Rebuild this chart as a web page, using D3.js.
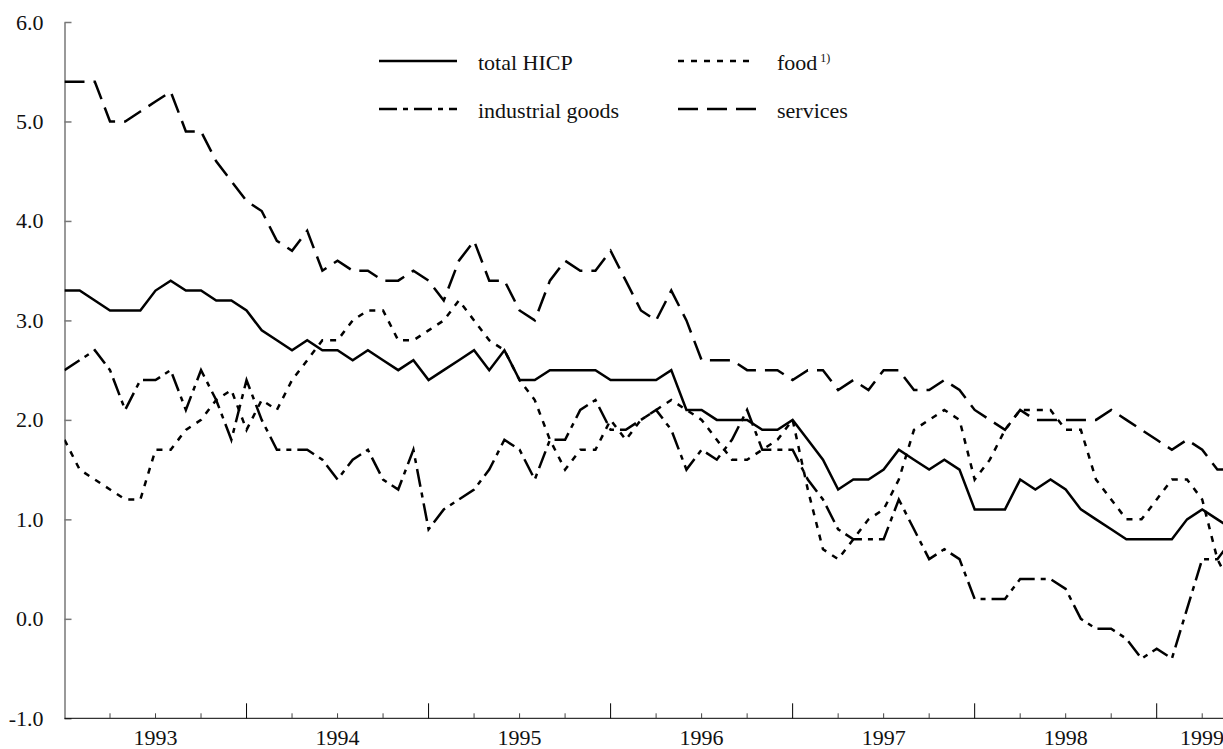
<!DOCTYPE html>
<meta charset="utf-8">
<style>
    body { margin: 0; background: #fff; }
    svg { display: block; font-family: "Liberation Serif", "Times New Roman", serif; }
    .series { fill: none; stroke: #000; stroke-width: 2.5px; stroke-linejoin: miter; }
    .yaxis path, .yaxis line { stroke: #777; stroke-width: 1.5px; }
    .xaxis line { stroke: #000; }
    .yaxis text, .year { font-family: "Liberation Serif", "Times New Roman", serif; font-size: 22px; fill: #111; }
    .legend text { font-size: 22px; fill: #111; }
</style>
<svg width="1223" height="749"></svg>

<script src="https://d3js.org/d3.v7.min.js"></script>
<script>
    // monthly data, Jan 1993 onwards, % change year on year
    var years = ["1993", "1994", "1995", "1996", "1997", "1998", "1999"];
    var yTicks = [-1, 0, 1, 2, 3, 4, 5, 6];

    var hicp = [3.3, 3.3, 3.2, 3.1, 3.1, 3.1, 3.3, 3.4, 3.3, 3.3, 3.2, 3.2,
        3.1, 2.9, 2.8, 2.7, 2.8, 2.7, 2.7, 2.6, 2.7, 2.6, 2.5, 2.6,
        2.4, 2.5, 2.6, 2.7, 2.5, 2.7, 2.4, 2.4, 2.5, 2.5, 2.5, 2.5,
        2.4, 2.4, 2.4, 2.4, 2.5, 2.1, 2.1, 2.0, 2.0, 2.0, 1.9, 1.9,
        2.0, 1.8, 1.6, 1.3, 1.4, 1.4, 1.5, 1.7, 1.6, 1.5, 1.6, 1.5,
        1.1, 1.1, 1.1, 1.4, 1.3, 1.4, 1.3, 1.1, 1.0, 0.9, 0.8, 0.8,
        0.8, 0.8, 1.0, 1.1, 1.0, 0.9];
    var food = [1.8, 1.5, 1.4, 1.3, 1.2, 1.2, 1.7, 1.7, 1.9, 2.0, 2.2, 2.3,
        1.9, 2.2, 2.1, 2.4, 2.6, 2.8, 2.8, 3.0, 3.1, 3.1, 2.8, 2.8,
        2.9, 3.0, 3.2, 3.0, 2.8, 2.7, 2.4, 2.2, 1.8, 1.5, 1.7, 1.7,
        2.0, 1.8, 2.0, 2.1, 2.2, 2.1, 2.0, 1.8, 1.6, 1.6, 1.7, 1.8,
        2.0, 1.3, 0.7, 0.6, 0.8, 1.0, 1.1, 1.4, 1.9, 2.0, 2.1, 2.0,
        1.4, 1.6, 1.9, 2.1, 2.1, 2.1, 1.9, 1.9, 1.4, 1.2, 1.0, 1.0,
        1.2, 1.4, 1.4, 1.2, 0.6, 0.3];
    var industrial = [2.5, 2.6, 2.7, 2.5, 2.1, 2.4, 2.4, 2.5, 2.1, 2.5, 2.2, 1.8,
        2.4, 2.0, 1.7, 1.7, 1.7, 1.6, 1.4, 1.6, 1.7, 1.4, 1.3, 1.7,
        0.9, 1.1, 1.2, 1.3, 1.5, 1.8, 1.7, 1.4, 1.8, 1.8, 2.1, 2.2,
        1.9, 1.9, 2.0, 2.1, 1.9, 1.5, 1.7, 1.6, 1.8, 2.1, 1.7, 1.7,
        1.7, 1.4, 1.2, 0.9, 0.8, 0.8, 0.8, 1.2, 0.9, 0.6, 0.7, 0.6,
        0.2, 0.2, 0.2, 0.4, 0.4, 0.4, 0.3, 0.0, -0.1, -0.1, -0.2, -0.4,
        -0.3, -0.4, 0.1, 0.6, 0.6, 0.8];
    var services = [5.4, 5.4, 5.4, 5.0, 5.0, 5.1, 5.2, 5.3, 4.9, 4.9, 4.6, 4.4,
        4.2, 4.1, 3.8, 3.7, 3.9, 3.5, 3.6, 3.5, 3.5, 3.4, 3.4, 3.5,
        3.4, 3.2, 3.6, 3.8, 3.4, 3.4, 3.1, 3.0, 3.4, 3.6, 3.5, 3.5,
        3.7, 3.4, 3.1, 3.0, 3.3, 3.0, 2.6, 2.6, 2.6, 2.5, 2.5, 2.5,
        2.4, 2.5, 2.5, 2.3, 2.4, 2.3, 2.5, 2.5, 2.3, 2.3, 2.4, 2.3,
        2.1, 2.0, 1.9, 2.1, 2.0, 2.0, 2.0, 2.0, 2.0, 2.1, 2.0, 1.9,
        1.8, 1.7, 1.8, 1.7, 1.5, 1.5];

    var series = [
        {name: "total HICP", values: hicp, dash: null},
        {name: "food", note: "1)", values: food, dash: "6,7"},
        {name: "industrial goods", values: industrial, dash: "18,6,5,6"},
        {name: "services", values: services, dash: "20,9"}
    ];

    var svg = d3.select("svg"),
        width = +svg.attr("width"),
        height = +svg.attr("height");

    var plotLeft = 64.5, plotTop = 22, plotBottom = 718.3;

    // one unit = one month, Jan 1993 = 0
    var x = d3.scaleLinear().domain([0, 72]).range([plotLeft, 1156.7]);
    var y = d3.scaleLinear().domain([-1, 6]).range([plotBottom, plotTop]);

    svg.append("defs").append("clipPath").attr("id", "plot")
        .append("rect")
        .attr("x", plotLeft).attr("y", 0)
        .attr("width", width - plotLeft).attr("height", plotBottom);

    // y axis, ticks pointing into the plot
    svg.append("g")
        .attr("class", "yaxis")
        .attr("transform", "translate(" + plotLeft + ",0)")
        .call(d3.axisLeft(y)
            .tickValues(yTicks)
            .tickSizeInner(-7)
            .tickSizeOuter(0)
            .tickPadding(21)
            .tickFormat(function(d) { return d.toFixed(1); }));

    // x axis: quarter ticks short, year ticks long
    var quarters = d3.range(3, 78, 3).filter(function(m) { return m % 12 != 0; });
    var yearStarts = d3.range(12, 78, 12);

    var xg = svg.append("g")
        .attr("class", "xaxis")
        .attr("transform", "translate(0," + plotBottom + ")");

    xg.append("line")
        .attr("x1", plotLeft).attr("x2", width)
        .attr("y1", 0).attr("y2", 0);

    xg.selectAll(".minor")
        .data(quarters)
        .enter().append("line")
        .attr("class", "minor")
        .attr("x1", function(d) { return x(d); })
        .attr("x2", function(d) { return x(d); })
        .attr("y1", 0).attr("y2", -5)
        .style("stroke", "#444");

    xg.selectAll(".major")
        .data(yearStarts)
        .enter().append("line")
        .attr("class", "major")
        .attr("x1", function(d) { return x(d); })
        .attr("x2", function(d) { return x(d); })
        .attr("y1", 0).attr("y2", -15);

    xg.selectAll(".year")
        .data(years)
        .enter().append("text")
        .attr("class", "year")
        .attr("x", function(d, i) { return Math.min(x(i * 12 + 6), width - 21); })
        .attr("y", 26.5)
        .attr("text-anchor", "middle")
        .text(function(d) { return d; });

    // lines
    var line = d3.line()
        .x(function(d, i) { return x(i); })
        .y(function(d) { return y(d); });

    svg.append("g")
        .attr("clip-path", "url(#plot)")
        .selectAll("path")
        .data(series)
        .enter().append("path")
        .attr("class", "series")
        .attr("d", function(d) { return line(d.values); })
        .attr("stroke-dasharray", function(d) { return d.dash; });

    // legend, two columns
    var legend = svg.append("g").attr("class", "legend");
    var colX = [379, 678], rowY = [61, 109];

    var item = legend.selectAll("g")
        .data(series)
        .enter().append("g")
        .attr("transform", function(d, i) {
            return "translate(" + colX[i % 2] + "," + rowY[Math.floor(i / 2)] + ")";
        });

    item.append("line")
        .attr("x1", 0).attr("x2", 78)
        .attr("y1", 0).attr("y2", 0)
        .attr("stroke", "#000")
        .attr("stroke-width", 2.7)
        .attr("stroke-dasharray", function(d) { return d.dash; });

    var label = item.append("text")
        .attr("x", 99)
        .attr("y", 8.5)
        .text(function(d) { return d.name; });

    label.filter(function(d) { return d.note; })
        .append("tspan")
        .attr("dx", 3)
        .attr("dy", -8)
        .style("font-size", "12px")
        .text(function(d) { return d.note; });
</script>
